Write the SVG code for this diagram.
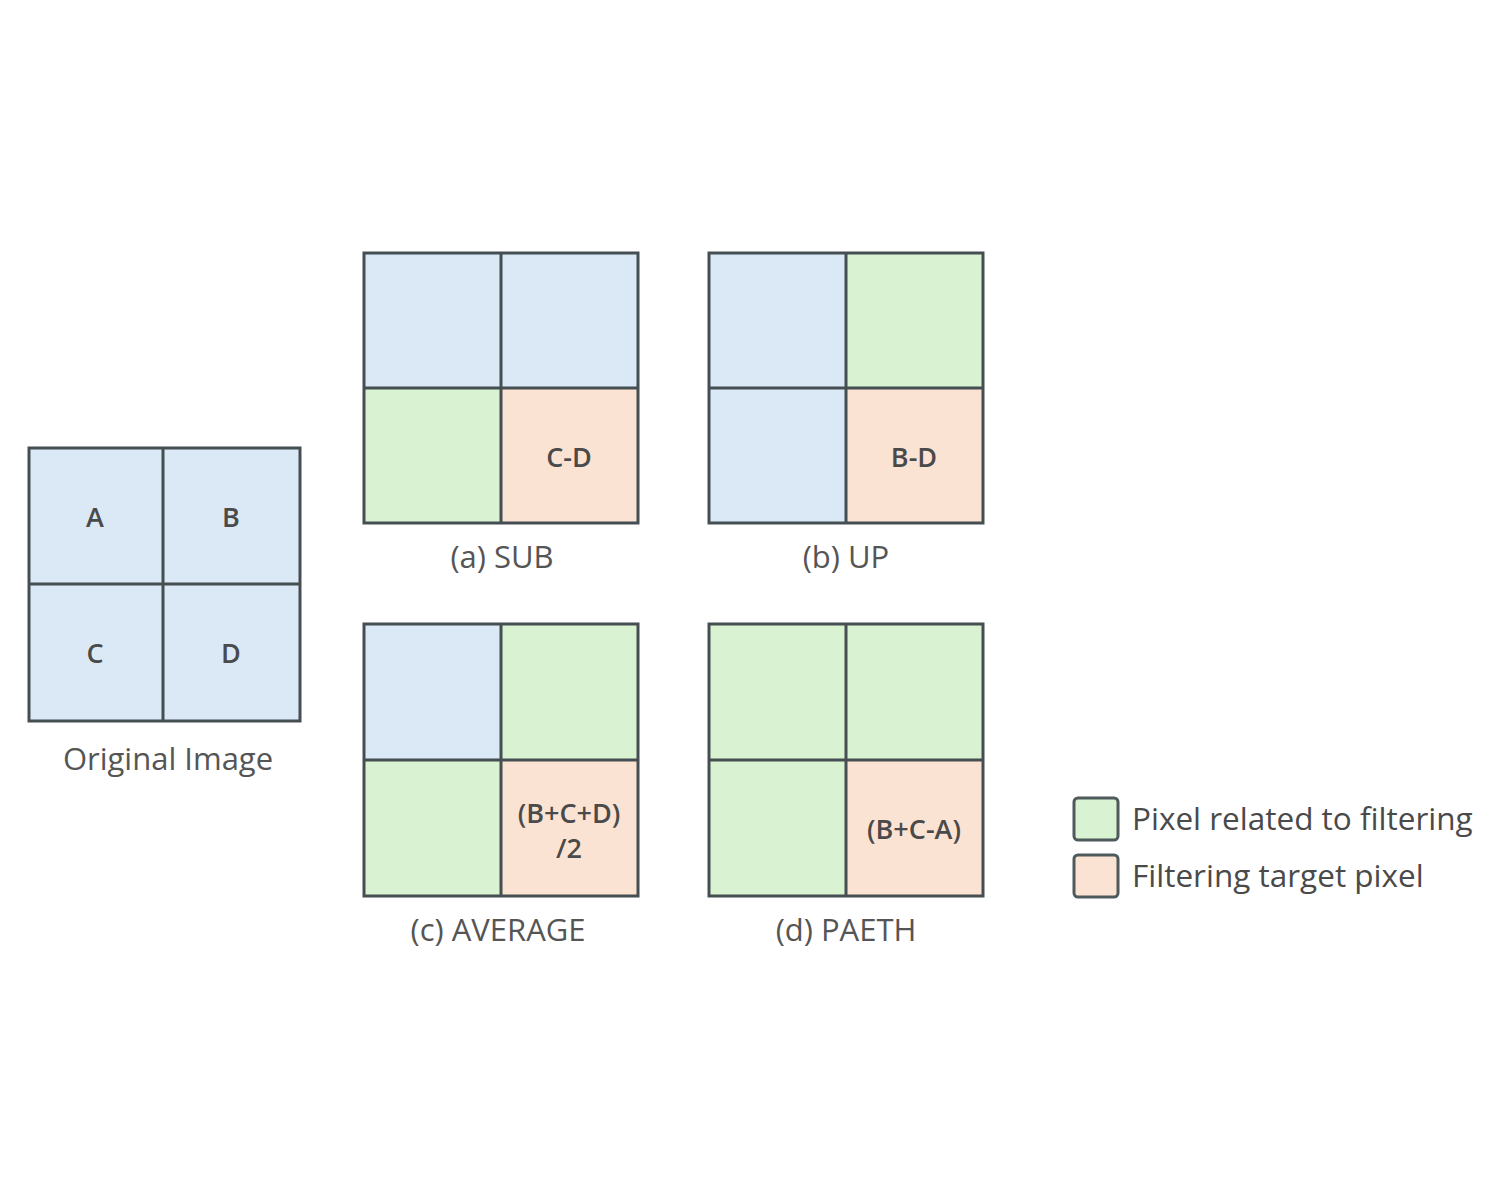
<svg xmlns="http://www.w3.org/2000/svg" width="1500" height="1200" viewBox="0 0 1500 1200">
<style>
.b{fill:#dbe9f6}
.g{fill:#d9f2d1}
.o{fill:#fbe3d3}
.ln{stroke:#454f52;stroke-width:3;fill:none}
.ct{font-family:"Open Sans",sans-serif;font-size:27px;font-weight:600;fill:#4a4a4a;text-anchor:middle;dominant-baseline:central}
.lb{font-family:"Open Sans",sans-serif;font-size:31px;fill:#555;text-anchor:middle}
.lg{font-family:"Open Sans",sans-serif;font-size:31.5px;fill:#4a4a4a}
</style>
<rect width="1500" height="1200" fill="#fff"/>
<g id="original">
<rect class="b" x="29" y="448" width="271" height="273"/>
<path class="ln" d="M29 448H300V721H29ZM163 448V721M29 584H300"/>
<text class="ct" x="95" y="516">A</text>
<text class="ct" x="231" y="516">B</text>
<text class="ct" x="95" y="652">C</text>
<text class="ct" x="231" y="652">D</text>
<text class="lb" x="168" y="770">Original Image</text>
</g>
<g id="sub">
<rect class="b" x="364" y="253" width="274" height="135"/>
<rect class="g" x="364" y="388" width="137" height="135"/>
<rect class="o" x="501" y="388" width="137" height="135"/>
<path class="ln" d="M364 253H638V523H364ZM501 253V523M364 388H638"/>
<text class="ct" x="569" y="456">C-D</text>
<text class="lb" x="502" y="568">(a) SUB</text>
</g>
<g id="up">
<rect class="b" x="709" y="253" width="137" height="270"/>
<rect class="g" x="846" y="253" width="137" height="135"/>
<rect class="o" x="846" y="388" width="137" height="135"/>
<path class="ln" d="M709 253H983V523H709ZM846 253V523M709 388H983"/>
<text class="ct" x="914" y="456">B-D</text>
<text class="lb" x="846" y="568">(b) UP</text>
</g>
<g id="average">
<rect class="g" x="364" y="624" width="274" height="272"/>
<rect class="b" x="364" y="624" width="137" height="136"/>
<rect class="o" x="501" y="760" width="137" height="136"/>
<path class="ln" d="M364 624H638V896H364ZM501 624V896M364 760H638"/>
<text class="ct" x="569" y="812">(B+C+D)</text>
<text class="ct" x="569" y="847">/2</text>
<text class="lb" x="498" y="941">(c) AVERAGE</text>
</g>
<g id="paeth">
<rect class="g" x="709" y="624" width="274" height="272"/>
<rect class="o" x="846" y="760" width="137" height="136"/>
<path class="ln" d="M709 624H983V896H709ZM846 624V896M709 760H983"/>
<text class="ct" x="914" y="828">(B+C-A)</text>
<text class="lb" x="846" y="941">(d) PAETH</text>
</g>
<g id="legend">
<rect class="g" x="1074" y="798" width="44" height="42" rx="4" stroke="#4f5a5c" stroke-width="3"/>
<rect class="o" x="1074" y="855" width="44" height="42" rx="4" stroke="#4f5a5c" stroke-width="3"/>
<text class="lg" x="1132" y="830">Pixel related to filtering</text>
<text class="lg" x="1132" y="887">Filtering target pixel</text>
</g>
<g id="connectors"/>
</svg>
